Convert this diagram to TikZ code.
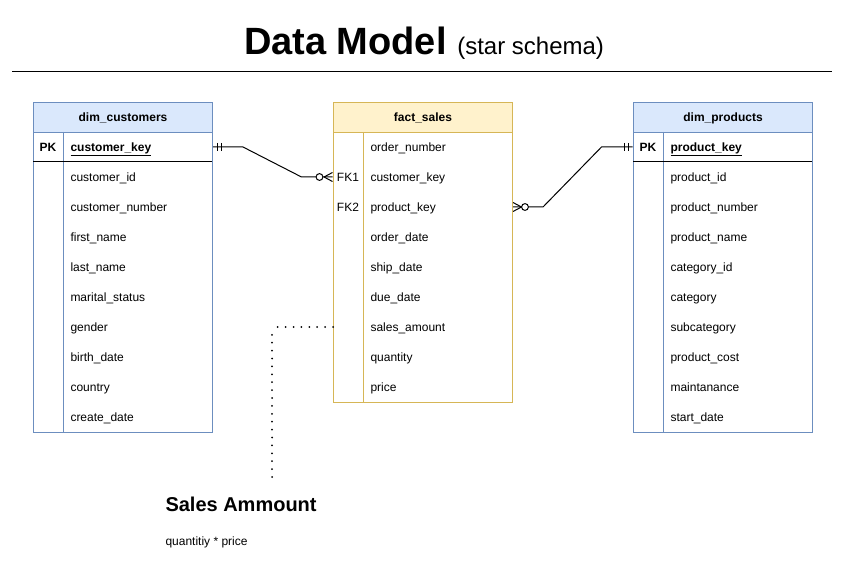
\documentclass[tikz,border=0pt]{standalone}
\usepackage{fontspec}
\setmainfont{Liberation Sans}

\definecolor{custfill}{HTML}{DAE8FC}
\definecolor{custline}{HTML}{6C8EBF}
\definecolor{salesfill}{HTML}{FFF2CC}
\definecolor{salesline}{HTML}{D6B656}

\begin{document}
\begin{tikzpicture}[x=1pt,y=-1pt,line width=1pt,
    font=\fontsize{12}{14}\selectfont,
    tablebox/.style={draw,anchor=north west,minimum width=179pt,inner sep=0pt},
    headbox/.style={draw,anchor=north west,minimum width=179pt,minimum height=30pt,
      inner sep=0pt,text height=10.5pt,text depth=2.1pt,
      font=\fontsize{12}{14}\selectfont\bfseries},
    field/.style={anchor=west,minimum height=30pt,text width=135pt,inner xsep=7pt,
      inner ysep=0pt,align=left,text height=10.5pt,text depth=2.1pt},
    keycell/.style={minimum width=30pt,minimum height=30pt,inner sep=0pt,
      text height=10.5pt,text depth=2.1pt},
    dots/.style={line width=2pt,line cap=round,dash pattern=on 0pt off 7.9pt}]

      \useasboundingbox[fill=white] (0,0) rectangle (847,567);

      % title
      \node[anchor=base,inner sep=0pt] (title) at (424,55)
        {\fontsize{38}{42}\selectfont\bfseries Data Model
         \fontsize{24}{28}\selectfont\mdseries (star schema)};
      \draw (12,72) -- (832,72);

      % tables
      \node[tablebox,custline,minimum height=330pt] (cust) at (33,102) {};
      \node[headbox,custline,fill=custfill,text=black] (custhead) at (33,102) {dim\_customers};
      \draw[custline] (63,132) -- (63,432);
      \draw (33,162) -- (212,162);

      \node[tablebox,salesline,minimum height=300pt] (sales) at (333,102) {};
      \node[headbox,salesline,fill=salesfill,text=black] (saleshead) at (333,102) {fact\_sales};
      \draw[salesline] (363,132) -- (363,402);

      \node[tablebox,custline,minimum height=330pt] (prod) at (633,102) {};
      \node[headbox,custline,fill=custfill,text=black] (prodhead) at (633,102) {dim\_products};
      \draw[custline] (663,132) -- (663,432);
      \draw (633,162) -- (812,162);

      \begin{scope}[every node/.style={field}]
        \node (ckey)     at (63,147) {\textbf{\underline{customer\_key}}};
        \node (cid)      at (63,177) {customer\_id};
        \node (cnumber)  at (63,207) {customer\_number};
        \node (cfirst)   at (63,237) {first\_name};
        \node (clast)    at (63,267) {last\_name};
        \node (cmarital) at (63,297) {marital\_status};
        \node (cgender)  at (63,327) {gender};
        \node (cbirth)   at (63,357) {birth\_date};
        \node (ccountry) at (63,387) {country};
        \node (ccreate)  at (63,417) {create\_date};

        \node (forder)   at (363,147) {order\_number};
        \node (fcust)    at (363,177) {customer\_key};
        \node (fprod)    at (363,207) {product\_key};
        \node (fodate)   at (363,237) {order\_date};
        \node (fship)    at (363,267) {ship\_date};
        \node (fdue)     at (363,297) {due\_date};
        \node (famount)  at (363,327) {sales\_amount};
        \node (fqty)     at (363,357) {quantity};
        \node (fprice)   at (363,387) {price};

        \node (pkey)     at (663,147) {\textbf{\underline{product\_key}}};
        \node (pid)      at (663,177) {product\_id};
        \node (pnumber)  at (663,207) {product\_number};
        \node (pname)    at (663,237) {product\_name};
        \node (pcatid)   at (663,267) {category\_id};
        \node (pcat)     at (663,297) {category};
        \node (psubcat)  at (663,327) {subcategory};
        \node (pcost)    at (663,357) {product\_cost};
        \node (pmaint)   at (663,387) {maintanance};
        \node (pstart)   at (663,417) {start\_date};
      \end{scope}

      \begin{scope}[every node/.style={keycell}]
        \node (cpk) at (48,147)  {\textbf{PK}};
        \node (fk1) at (348,177) {FK1};
        \node (fk2) at (348,207) {FK2};
        \node (ppk) at (648,147) {\textbf{PK}};
      \end{scope}

      % relations
      \draw (ckey.east) -- ++(30,0) -- ([xshift=-31pt]fk1.west) -- (fk1.west);
      \draw ([xshift=4.5pt]ckey.east) ++(0,-4) -- ++(0,8);
      \draw ([xshift=8.5pt]ckey.east) ++(0,-4) -- ++(0,8);
      \draw[fill=white] ([xshift=-13pt]fk1.west) circle (3.4pt);
      \draw ([xshift=-8.5pt]fk1.west) -- ++(8.5,-4.5);
      \draw ([xshift=-8.5pt]fk1.west) -- ++(8.5,4.5);

      \draw (fprod.east) -- ++(30,0) -- ([xshift=-31pt]ppk.west) -- (ppk.west);
      \draw ([xshift=-4.5pt]ppk.west) ++(0,-4) -- ++(0,8);
      \draw ([xshift=-8.5pt]ppk.west) ++(0,-4) -- ++(0,8);
      \draw[fill=white] ([xshift=12pt]fprod.east) circle (3.4pt);
      \draw ([xshift=8.5pt]fprod.east) -- ++(-8.5,-4.5);
      \draw ([xshift=8.5pt]fprod.east) -- ++(-8.5,4.5);

      % note
      \coordinate (notetop) at (272,477);
      \coordinate (notebend) at (272,327);
      \node[anchor=base west,inner sep=0pt,font=\fontsize{20}{24}\selectfont\bfseries]
        (notehead) at (165,511) {Sales Ammount};
      \node[anchor=base west,inner sep=0pt,font=\fontsize{12}{14}\selectfont]
        (notebody) at (165,545) {quantitiy * price};
      \draw[dots] ([xshift=-30pt]famount.west) -- ([xshift=3pt]notebend);
      \draw[dots] (notetop) -- ([yshift=-5pt]notebend);

    \end{tikzpicture}
\end{document}
